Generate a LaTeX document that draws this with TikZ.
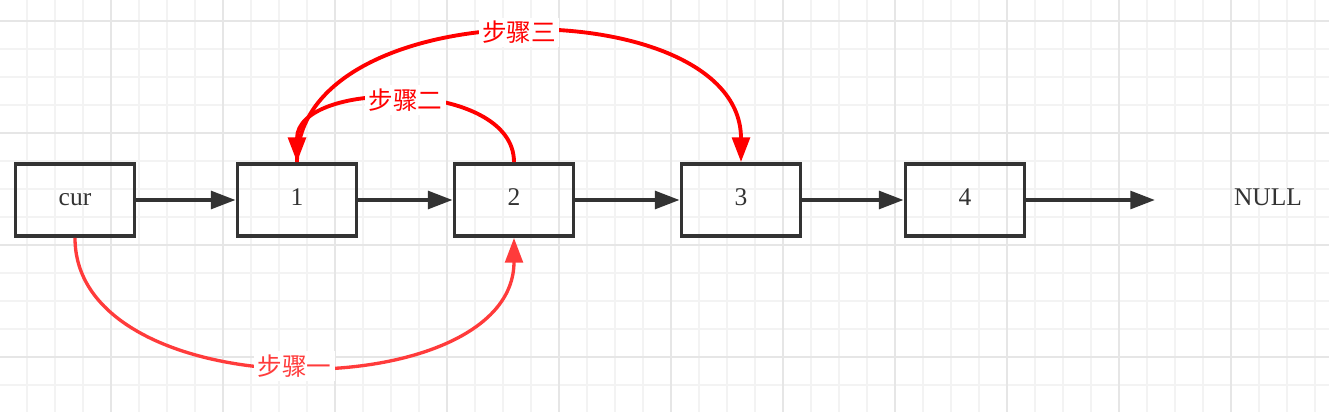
\documentclass[tikz,border=0pt]{standalone}
\usepackage{fontspec}
\setmainfont{Liberation Serif}
\newfontfamily\cjk{Noto Sans CJK SC}
\usetikzlibrary{arrows.meta}
\definecolor{ink}{HTML}{333333}
\definecolor{gridminor}{HTML}{F3F3F3}
\definecolor{gridmajor}{HTML}{E6E6E6}
\definecolor{stepred}{HTML}{FF0000}
\definecolor{steplight}{HTML}{FF3B3B}

\begin{document}
\begin{tikzpicture}[x=0.02cm, y=-0.02cm,
    box/.style={draw=ink, line width=2.2pt, minimum width=2.38cm, minimum height=1.44cm,
      inner sep=0pt, text=ink, text height=0.68em, text depth=0pt, font=\fontsize{14.5}{17}\selectfont},
    link/.style={ink, line width=2.2pt, -{Triangle[length=14pt,width=10pt]}},
    stepline/.style={stepred, line width=2.2pt, -{Triangle[length=14pt,width=10pt]}},
    steplabel/.style={fill=white, text=stepred, inner sep=2pt, font=\cjk\fontsize{14}{16}\selectfont}]
    \useasboundingbox[fill=white] (0,0) rectangle (1329,412);
    % background grid
    \foreach \x in {27,55,...,1315} \draw[gridminor, line width=0.6pt] (\x,0) -- (\x,412);
    \foreach \y in {21,49,...,413} \draw[gridminor, line width=0.6pt] (0,\y) -- (1329,\y);
    \foreach \x in {111,223,...,1231} \draw[gridmajor, line width=1pt] (\x,0) -- (\x,412);
    \foreach \y in {21,133,...,357} \draw[gridmajor, line width=1pt] (0,\y) -- (1329,\y);

    % list nodes
    \node[box] (cur) at (75,200) {cur};
    \node[box] (n1) at (297,200) {1};
    \node[box] (n2) at (514,200) {2};
    \node[box] (n3) at (741,200) {3};
    \node[box] (n4) at (965,200) {4};
    \node[text=ink, text height=0.68em, text depth=0pt, font=\fontsize{14.5}{17}\selectfont] (null) at (1268,200) {NULL};
    \coordinate (nullend) at (1155,200);

    \draw[link] (cur) -- (n1);
    \draw[link] (n1) -- (n2);
    \draw[link] (n2) -- (n3);
    \draw[link] (n3) -- (n4);
    \draw[link] (n4) -- (nullend);

    % steps
    \draw[stepline, steplight, line width=1.9pt] (cur.south) .. controls +(0,172) and +(0,170) ..
        node[steplabel, text=steplight] (step1) {步骤一} (n2.south);
    \draw[stepline] (n2.north) .. controls +(0,-83) and +(0,-83) ..
        node[steplabel] (step2) {步骤二} (n1.north);
    \draw[stepline] (n1.north) .. controls +(0,-173) and +(0,-173) ..
        node[steplabel] (step3) {步骤三} (n3.north);
\end{tikzpicture}
\end{document}
